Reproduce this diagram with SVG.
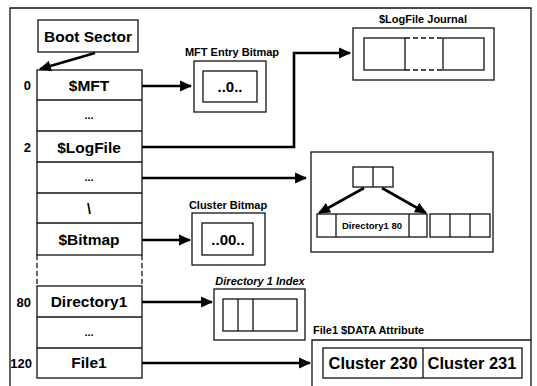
<svg xmlns="http://www.w3.org/2000/svg" width="537" height="386" viewBox="0 0 537 386">
<defs>
<marker id="ah" markerWidth="6" markerHeight="6" refX="4.2" refY="3" orient="auto" markerUnits="strokeWidth">
<path d="M0,0.9 L4.6,3 L0,5.1 Z" fill="#000"/>
</marker>
<style>
.b{fill:#fff;stroke:#111;stroke-width:1.3}
.n{fill:none;stroke:#111;stroke-width:1.3}
.d{fill:none;stroke:#111;stroke-width:1.3;stroke-dasharray:5,3}
.t{font-family:"Liberation Sans",Arial,sans-serif;font-weight:bold;fill:#000;text-anchor:middle}
.c{fill:none;stroke:#000;stroke-width:2.6}
</style>
</defs>
<rect width="537" height="386" fill="#fff"/>
<path class="n" d="M10,390 V8 H531 V390"/>

<g id="boot-sector">
<rect class="b" x="38" y="20" width="100" height="32"/>
<text class="t" x="88" y="42" font-size="15.5">Boot Sector</text>
</g>

<g id="mft-table">
<rect class="n" x="37" y="70" width="105" height="185"/>
<line class="n" x1="37" y1="100" x2="142" y2="100"/>
<line class="n" x1="37" y1="131" x2="142" y2="131"/>
<line class="n" x1="37" y1="162" x2="142" y2="162"/>
<line class="n" x1="37" y1="193" x2="142" y2="193"/>
<line class="n" x1="37" y1="223" x2="142" y2="223"/>
<line class="d" x1="37" y1="255" x2="37" y2="286"/>
<line class="d" x1="142" y1="255" x2="142" y2="286"/>
<rect class="n" x="37" y="286" width="105" height="92"/>
<line class="n" x1="37" y1="317" x2="142" y2="317"/>
<line class="n" x1="37" y1="348" x2="142" y2="348"/>
<text class="t" x="89" y="91" font-size="15.5">$MFT</text>
<text class="t" x="89" y="119" font-size="11">...</text>
<text class="t" x="89" y="153" font-size="15.5">$LogFile</text>
<text class="t" x="89" y="181" font-size="11">...</text>
<text class="t" x="89" y="214" font-size="14">\</text>
<text class="t" x="89" y="245" font-size="15.5">$Bitmap</text>
<text class="t" x="89" y="307" font-size="15.5">Directory1</text>
<text class="t" x="89" y="336" font-size="11">...</text>
<text class="t" x="89" y="368" font-size="15.5">File1</text>
<g class="t" font-size="13" style="text-anchor:end">
<text x="31" y="90">0</text>
<text x="31" y="152">2</text>
<text x="31" y="307">80</text>
<text x="32" y="368">120</text>
</g>
</g>

<g id="mft-entry-bitmap">
<text class="t" x="232" y="56" font-size="11">MFT Entry Bitmap</text>
<rect class="b" x="194" y="61" width="72" height="51"/>
<rect class="n" x="203" y="71" width="54" height="31"/>
<text class="t" x="230" y="92" font-size="15">..0..</text>
</g>

<g id="logfile-journal">
<text class="t" x="423" y="23" font-size="11">$LogFile Journal</text>
<rect class="b" x="353" y="28" width="141" height="52"/>
<rect class="n" x="364" y="38" width="41" height="32"/>
<line class="d" x1="405" y1="38" x2="443" y2="38"/>
<line class="d" x1="405" y1="70" x2="443" y2="70"/>
<rect class="n" x="443" y="38" width="41" height="32"/>
</g>

<g id="directory-tree">
<rect class="b" x="311" y="152" width="182" height="100"/>
<rect class="n" x="353" y="167" width="40" height="20"/>
<line class="n" x1="373" y1="167" x2="373" y2="187"/>
<rect class="n" x="317" y="214" width="110" height="23"/>
<line class="n" x1="336" y1="214" x2="336" y2="237"/>
<line class="n" x1="409" y1="214" x2="409" y2="237"/>
<text class="t" x="372" y="229" font-size="9.5">Directory1 80</text>
<rect class="n" x="430" y="214" width="60" height="23"/>
<line class="n" x1="450" y1="214" x2="450" y2="237"/>
<line class="n" x1="470" y1="214" x2="470" y2="237"/>
</g>

<g id="cluster-bitmap">
<text class="t" x="228" y="209" font-size="11">Cluster Bitmap</text>
<rect class="b" x="192" y="213" width="73" height="52"/>
<rect class="n" x="202" y="223" width="51" height="32"/>
<text class="t" x="228" y="245" font-size="15">..00..</text>
</g>

<g id="directory1-index">
<text class="t" x="260" y="285" font-size="11" font-style="italic">Directory 1 Index</text>
<rect class="b" x="214" y="289" width="91" height="51"/>
<rect class="n" x="223" y="299" width="74" height="32"/>
<line class="n" x1="238" y1="299" x2="238" y2="331"/>
<line class="n" x1="253" y1="299" x2="253" y2="331"/>
</g>

<g id="file1-data">
<text class="t" x="313" y="334" font-size="11" style="text-anchor:start">File1 $DATA Attribute</text>
<path class="n" d="M312,390 V340 H531"/>
<rect class="n" x="323" y="348" width="199" height="30"/>
<line class="n" x1="423" y1="348" x2="423" y2="378"/>
<text class="t" x="373" y="369" font-size="16.5">Cluster 230</text>
<text class="t" x="472" y="369" font-size="16.5">Cluster 231</text>
</g>

<g id="connectors">
<line class="c" x1="95" y1="53" x2="40" y2="69" marker-end="url(#ah)"/>
<line class="c" x1="142" y1="86" x2="191" y2="86" marker-end="url(#ah)"/>
<path class="c" d="M142,147 H294 V53 H350" marker-end="url(#ah)"/>
<line class="c" x1="142" y1="178" x2="306" y2="178" marker-end="url(#ah)"/>
<line class="c" x1="142" y1="240" x2="190" y2="240" marker-end="url(#ah)"/>
<line class="c" x1="142" y1="302" x2="212" y2="302" marker-end="url(#ah)"/>
<line class="c" x1="142" y1="363" x2="310" y2="363" marker-end="url(#ah)"/>
<line class="c" x1="364" y1="188" x2="319" y2="213" marker-end="url(#ah)"/>
<line class="c" x1="382" y1="188" x2="426" y2="213" marker-end="url(#ah)"/>
</g>
</svg>
